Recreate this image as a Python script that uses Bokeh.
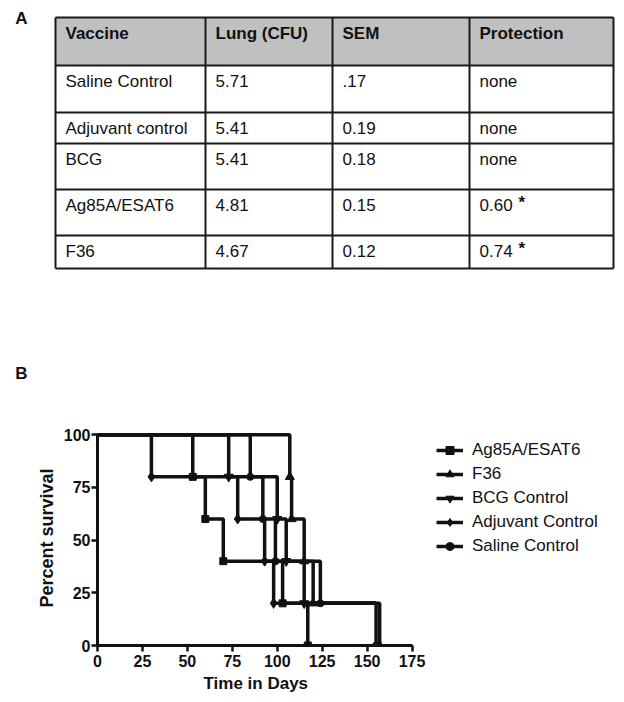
from bokeh.plotting import figure
from bokeh.models import Range1d, FixedTicker, Legend, LegendItem, Title
from bokeh.core.properties import value
from bokeh.embed import file_html
from bokeh.resources import INLINE

FONT = "Liberation Sans"

# ---------------- Table data (panel A) ----------------
headers = ["Vaccine", "Lung (CFU)", "SEM", "Protection"]
vaccines = ["Saline Control", "Adjuvant control", "BCG", "Ag85A/ESAT6", "F36"]
lung_cfu = ["5.71", "5.41", "5.41", "4.81", "4.67"]
sem = [".17", "0.19", "0.18", "0.15", "0.12"]
protection = ["none", "none", "none", "0.60", "0.74"]
significant = [False, False, False, True, True]

# ---------------- Survival data (panel B) ----------------
series_names = ["Ag85A/ESAT6", "F36", "BCG Control", "Adjuvant Control", "Saline Control"]
series_markers = ["square", "triangle", "inverted_triangle", "diamond", "circle"]
ag85a_days = [0, 53, 60, 70, 103, 117]
ag85a_surv = [100, 80, 60, 40, 20, 0]
f36_days = [0, 107, 108, 115, 120, 157]
f36_surv = [100, 80, 60, 40, 20, 0]
bcg_days = [0, 73, 100, 105, 115, 155]
bcg_surv = [100, 80, 60, 40, 20, 20]
adj_days = [0, 30, 78, 93, 98, 155]
adj_surv = [100, 80, 60, 40, 20, 20]
sal_days = [0, 85, 92, 99, 124, 155]
sal_surv = [100, 80, 60, 40, 20, 0]
x_ticks = [0, 25, 50, 75, 100, 125, 150, 175]
y_ticks = [0, 25, 50, 75, 100]
x_title = "Time in Days"
y_title = "Percent survival"

W = 624
TOP_H = 385
BOT_H = 702 - TOP_H
INK = "#111111"

# ================= Panel A: table =================
t = figure(width=W, height=TOP_H, x_range=Range1d(0, W), y_range=Range1d(TOP_H, 0),
           x_axis_type=None, y_axis_type=None, output_backend="svg", toolbar_location=None,
           min_border=0)
t.grid.visible = False
t.outline_line_color = None

col_edges = [55, 205, 332, 469, 613]
row_edges = [17, 65, 112, 143, 189, 235, 268]

t.quad(left=[col_edges[0]], right=[col_edges[-1]], top=[row_edges[0]], bottom=[row_edges[1]],
       fill_color="#c0c0c0", line_color=None)
t.segment(x0=[col_edges[0]] * len(row_edges), x1=[col_edges[-1]] * len(row_edges),
          y0=row_edges, y1=row_edges, line_color="#1a1a1a", line_width=2)
t.segment(x0=col_edges, x1=col_edges, y0=[row_edges[0]] * len(col_edges),
          y1=[row_edges[-1]] * len(col_edges), line_color="#1a1a1a", line_width=2)

pad_x = 10
pad_y = 15.5
t.text(x=[c + pad_x for c in col_edges[:-1]], y=[row_edges[0] + pad_y] * len(headers), text=headers,
       text_font=value(FONT), text_font_style="bold", text_font_size="17px",
       text_baseline="middle", text_color=INK)

columns = [vaccines, lung_cfu, sem, protection]
for ci, col in enumerate(columns):
    t.text(x=[col_edges[ci] + pad_x] * len(col), y=[r + pad_y for r in row_edges[1:-1]], text=col,
           text_font=value(FONT), text_font_size="17px", text_baseline="middle", text_color=INK)

star_y = [row_edges[1 + i] + pad_y - 3 for i, s in enumerate(significant) if s]
star_x = [col_edges[3] + pad_x + 39] * len(star_y)
t.text(x=star_x, y=star_y, text=["*"] * len(star_y), text_font=value(FONT), text_font_style="bold",
       text_font_size="17px", text_baseline="middle", text_color=INK)

t.text(x=[21, 21], y=[18, 373], text=["A", "B"], text_font=value(FONT), text_font_style="bold",
       text_font_size="17px", text_baseline="middle", text_align="center", text_color=INK)

# ================= Panel B: survival curves =================
p = figure(width=W, height=BOT_H, x_range=Range1d(0, 291), y_range=Range1d(0, 102),
           min_border_left=97, min_border_right=4, min_border_top=45, min_border_bottom=57,
           output_backend="svg", toolbar_location=None)
p.grid.visible = False
p.outline_line_color = None

for ax in (p.xaxis, p.yaxis):
    ax.axis_line_width = 3
    ax.axis_line_color = INK
    ax.major_tick_line_width = 2.5
    ax.major_tick_line_color = INK
    ax.major_tick_out = 6
    ax.major_tick_in = 0
    ax.minor_tick_line_color = None
    ax.major_label_text_font = FONT
    ax.major_label_text_font_style = "bold"
    ax.major_label_text_font_size = "16px"
    ax.major_label_text_color = INK
    ax.axis_label_text_font = FONT
    ax.axis_label_text_font_style = "bold"
    ax.axis_label_text_color = INK

p.xaxis.ticker = FixedTicker(ticks=x_ticks)
p.yaxis.ticker = FixedTicker(ticks=y_ticks)
p.xaxis.bounds = (x_ticks[0], x_ticks[-1])
p.yaxis.bounds = (y_ticks[0], y_ticks[-1])
p.yaxis.axis_label = y_title
p.yaxis.axis_label_text_font_size = "18px"
p.xaxis.major_label_standoff = 3
p.yaxis.major_label_standoff = 1
p.yaxis.axis_label_standoff = 4

# x-axis title centred under the bounded axis (0..175), not under the wide frame
p.add_layout(Title(text=x_title, align="left", offset=106, standoff=9, vertical_align="top",
                   text_font=FONT, text_font_size="17px", text_font_style="bold",
                   text_color=INK), "below")

all_days = [ag85a_days, f36_days, bcg_days, adj_days, sal_days]
all_surv = [ag85a_surv, f36_surv, bcg_surv, adj_surv, sal_surv]
marker_sizes = {"square": 7, "triangle": 9, "inverted_triangle": 9, "diamond": 10, "circle": 7}

items = []
for name, mk, d, s in zip(series_names, series_markers, all_days, all_surv):
    lr = p.step(x=d, y=s, mode="after", line_width=3.5, line_color=INK)
    mx = [d[i] for i in range(1, len(d)) if s[i] != s[i - 1]]
    my = [s[i] for i in range(1, len(d)) if s[i] != s[i - 1]]
    mr = p.scatter(x=mx, y=my, marker=mk, size=marker_sizes[mk], fill_color=INK, line_color=INK)
    items.append(LegendItem(label=name, renderers=[lr, mr]))

legend = Legend(items=items, location=(339, 89), glyph_width=27, glyph_height=20, label_height=20,
                spacing=4, padding=0, margin=0, label_standoff=9, border_line_color=None,
                background_fill_alpha=0, label_text_font=FONT, label_text_font_size="17px",
                label_text_color=INK)
p.add_layout(legend)

open("out.html", "w").write(file_html([t, p], INLINE))
